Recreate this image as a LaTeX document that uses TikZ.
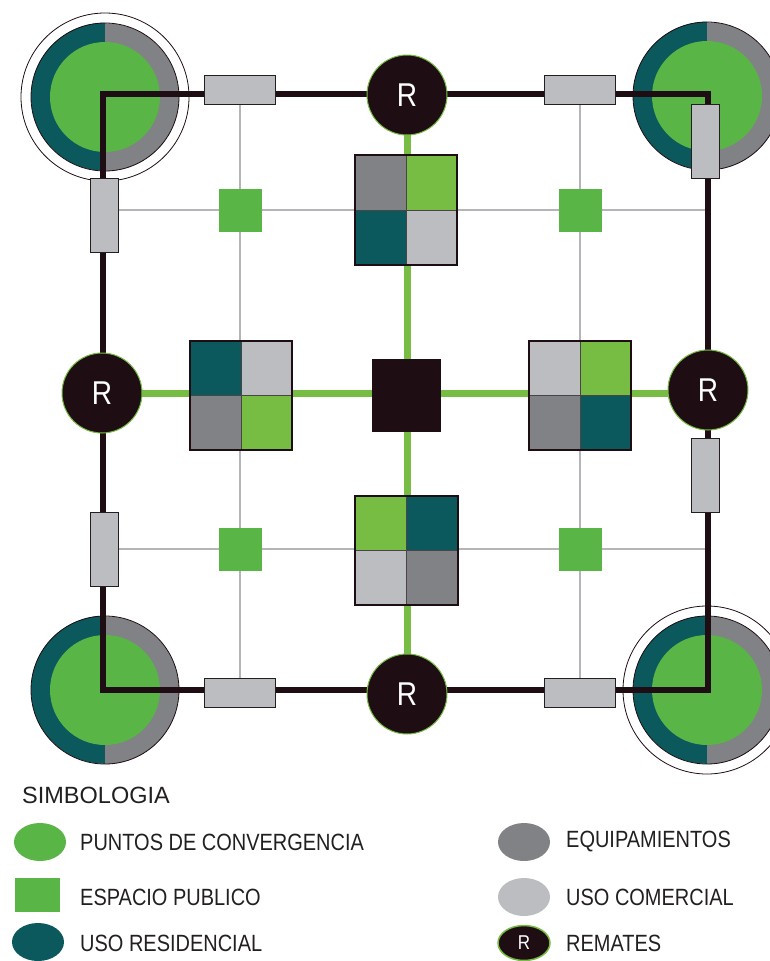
\documentclass[tikz,border=0pt]{standalone}
\usepackage{fontspec}
\setmainfont{Liberation Sans}[FakeStretch=0.85]
\newfontfamily\titlefont{Liberation Sans}
\usetikzlibrary{shapes.geometric}

\definecolor{inkdark}{HTML}{1E0D12}
\definecolor{textdark}{HTML}{231F20}
\definecolor{discgreen}{HTML}{5AB547}
\definecolor{crossgreen}{HTML}{77BC43}
\definecolor{resteal}{HTML}{0B585D}
\definecolor{equipgray}{HTML}{808285}
\definecolor{comgray}{HTML}{BBBDC0}
\definecolor{gridgray}{HTML}{B3B5B8}
\definecolor{cellline}{HTML}{4A4446}

% corner convergence disc: #1 name, #2 centre
\newcommand\cornerdisc[2]{%
  \node[circle, minimum size=148pt, inner sep=0pt] (#1) at (#2) {};
  \fill[resteal] (#1.north) arc[start angle=90, end angle=270, radius=74pt] -- cycle;
  \fill[equipgray] (#1.south) arc[start angle=-90, end angle=90, radius=74pt] -- cycle;
  \fill[discgreen] (#1.center) circle[radius=55pt];
  \draw[inkdark, line width=0.8pt] (#1.center) circle[radius=74pt];
}

% mixed-use block of four cells: #1 name, #2 centre, #3..#6 colours tl, tr, bl, br
\newcommand\fourcell[6]{%
  \node[rectangle, minimum width=102pt, minimum height=109pt, inner sep=0pt] (#1) at (#2) {};
  \fill[#3] (#1.north west) rectangle (#1.center);
  \fill[#4] (#1.north) rectangle (#1.east);
  \fill[#5] (#1.west) rectangle (#1.south);
  \fill[#6] (#1.center) rectangle (#1.south east);
  \draw[cellline, line width=1pt] (#1.north) -- (#1.south) (#1.west) -- (#1.east);
  \draw[inkdark, line width=1.8pt] (#1.north west) rectangle (#1.south east);
}

\begin{document}
\begin{tikzpicture}[x=1pt, y=-1pt,
  gridline/.style={draw=gridgray, line width=1.8pt},
  crossline/.style={draw=crossgreen, line width=7pt},
  frameline/.style={draw=inkdark, line width=6.5pt, line join=miter},
  plaza/.style={rectangle, fill=discgreen, minimum width=43pt, minimum height=43pt, inner sep=0pt},
  hcom/.style={rectangle, fill=comgray, draw=textdark, line width=0.8pt, minimum width=71pt, minimum height=29pt, inner sep=0pt},
  vcom/.style={rectangle, fill=comgray, draw=textdark, line width=0.8pt, minimum width=28pt, minimum height=74pt, inner sep=0pt},
  remate/.style={circle, fill=inkdark, draw=crossgreen, line width=1pt, minimum size=80pt, inner sep=0pt, text=white, font=\fontsize{33}{33}\selectfont},
  legtext/.style={anchor=west, text=textdark, font=\fontsize{23.5}{26}\selectfont, inner sep=0pt},
  legoval/.style={ellipse, minimum width=52pt, minimum height=38pt, inner sep=0pt}]
\useasboundingbox (0,0) rectangle (770,961);

% frame corners and grid ends
\coordinate (fNW) at (103,94);
\coordinate (fNE) at (708,94);
\coordinate (fSE) at (708,690);
\coordinate (fSW) at (103,690);
\coordinate (gN1) at (240,94);  \coordinate (gS1) at (240,690);
\coordinate (gN2) at (580,94);  \coordinate (gS2) at (580,690);
\coordinate (gW1) at (103,210); \coordinate (gE1) at (708,210);
\coordinate (gW2) at (103,549); \coordinate (gE2) at (708,549);

% secondary grid
\draw[gridline] (gN1) -- (gS1);
\draw[gridline] (gN2) -- (gS2);
\draw[gridline] (gW1) -- (gE1);
\draw[gridline] (gW2) -- (gE2);

% corner convergence points
\cornerdisc{dNW}{105,97}
\cornerdisc{dNE}{707,96}
\cornerdisc{dSW}{105,690}
\cornerdisc{dSE}{707,690}
\draw[inkdark, line width=0.8pt] (dNW.center) circle[radius=84pt];
\draw[inkdark, line width=0.8pt] (dSE.center) circle[radius=84pt];

% remate positions
\coordinate (pT) at (407,95);
\coordinate (pB) at (407,694);
\coordinate (pL) at (102,393);
\coordinate (pR) at (708,393);

% green axes
\draw[crossline] (pT) -- (pB);
\draw[crossline] (pL) -- (pR);

% main perimeter
\draw[frameline] (fNW) -- (fNE) -- (fSE) -- (fSW) -- cycle;

% public spaces
\node[plaza] (e1) at (240,210) {};
\node[plaza] (e2) at (580,210) {};
\node[plaza] (e3) at (240,549) {};
\node[plaza] (e4) at (580,549) {};

% commercial pieces on the perimeter
\node[hcom] (cT1) at (240,90) {};
\node[hcom] (cT2) at (580,90) {};
\node[hcom] (cB1) at (240,693) {};
\node[hcom] (cB2) at (580,693) {};
\node[vcom] (cL1) at (104,215) {};
\node[vcom] (cL2) at (104,549) {};
\node[vcom] (cR1) at (705,141) {};
\node[vcom] (cR2) at (705,475) {};

% remates
\node[remate] (rT) at (pT) {R};
\node[remate] (rB) at (pB) {R};
\node[remate] (rL) at (pL) {R};
\node[remate] (rR) at (708,390) {R};

% mixed-use blocks
\fourcell{qT}{406,210}{equipgray}{crossgreen}{resteal}{comgray}
\fourcell{qL}{241,395.5}{resteal}{comgray}{equipgray}{crossgreen}
\fourcell{qR}{580,395.5}{comgray}{crossgreen}{equipgray}{resteal}
\fourcell{qB}{406.5,550.5}{crossgreen}{resteal}{comgray}{equipgray}

% central node
\node[rectangle, fill=inkdark, minimum width=69pt, minimum height=73pt, inner sep=0pt] (cen) at (406,395) {};

% legend
\node[legtext, font=\titlefont\fontsize{23.5}{26}\selectfont] (sim) at (22,795) {SIMBOLOGIA};

\node[legoval, fill=discgreen] (k1) at (40,842) {};
\node[legtext] (t1) at (80,842) {PUNTOS DE CONVERGENCIA};
\node[rectangle, fill=discgreen, minimum width=45pt, minimum height=34pt, inner sep=0pt] (k2) at (37,895) {};
\node[legtext] (t2) at (80,897) {ESPACIO PUBLICO};
\node[legoval, fill=resteal] (k3) at (38,942) {};
\node[legtext] (t3) at (80,943) {USO RESIDENCIAL};

\node[legoval, fill=equipgray] (k4) at (524,842) {};
\node[legtext] (t4) at (566,842) {EQUIPAMIENTOS};
\node[legoval, fill=comgray] (k5) at (524,897) {};
\node[legtext] (t5) at (566,897) {USO COMERCIAL};
\node[legoval, fill=inkdark, draw=crossgreen, line width=1.5pt, minimum height=35pt, text=white, font=\fontsize{20}{20}\selectfont] (k6) at (524,943) {R};
\node[legtext] (t6) at (566,943) {REMATES};
\end{tikzpicture}
\end{document}
